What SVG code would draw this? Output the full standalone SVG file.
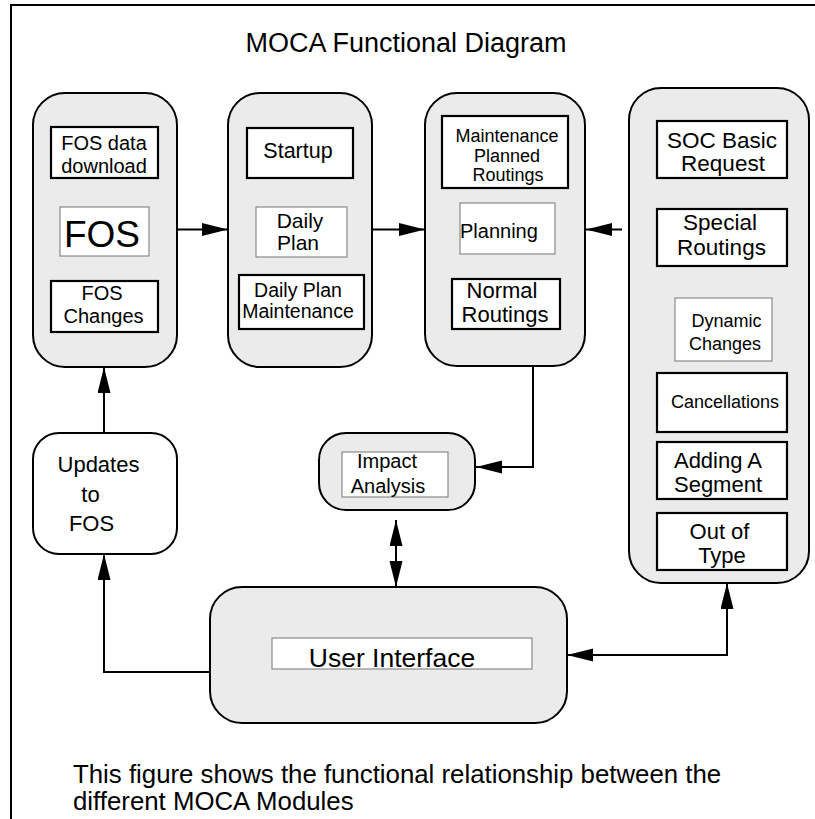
<svg xmlns="http://www.w3.org/2000/svg" width="815" height="819" viewBox="0 0 815 819">
<style>
text{font-family:"Liberation Sans",Arial,Helvetica,sans-serif;fill:#000}
.mod{fill:#ebebeb;stroke:#000;stroke-width:2}
.plain{fill:#fff;stroke:#000;stroke-width:2}
.box{fill:#fff;stroke:#000;stroke-width:2.2}
.thin{fill:#fff;stroke:#8a8a8a;stroke-width:1.2}
.con{fill:none;stroke:#000;stroke-width:2}
.m{text-anchor:middle}
</style>
<defs>
<marker id="ah" markerUnits="userSpaceOnUse" markerWidth="27" markerHeight="14" refX="26" refY="6.5" orient="auto-start-reverse" viewBox="0 0 27 14">
<path d="M0,0 L26,6.5 L0,13 z" fill="#000"/>
</marker>
</defs>
<rect width="815" height="819" fill="#fff"/>
<g id="frame">
<path d="M11,819 V5 H815" fill="none" stroke="#000" stroke-width="2"/>
</g>
<text id="title" x="406" y="52" font-size="27" class="m">MOCA Functional Diagram</text>

<g id="fos-module">
<rect class="mod" x="33" y="93" width="144" height="274" rx="32"/>
<rect class="box" x="51" y="127" width="107" height="51"/>
<text x="104" y="150" font-size="20" class="m">FOS data</text>
<text x="104" y="173" font-size="20" class="m">download</text>
<rect class="thin" x="60" y="207" width="89" height="49"/>
<text x="102" y="247" font-size="37" class="m">FOS</text>
<rect class="box" x="51" y="281" width="107" height="51"/>
<text x="102" y="300" font-size="20" class="m">FOS</text>
<text x="103.5" y="323" font-size="20" class="m">Changes</text>
</g>

<g id="daily-module">
<rect class="mod" x="228" y="93" width="144" height="274" rx="32"/>
<rect class="box" x="247" y="128" width="106" height="50"/>
<text x="298" y="158" font-size="21.5" class="m">Startup</text>
<rect class="thin" x="256" y="207" width="91" height="50"/>
<text x="300" y="228" font-size="21" class="m">Daily</text>
<text x="298" y="250" font-size="21" class="m">Plan</text>
<rect class="box" x="239" y="275" width="125" height="54"/>
<text x="298" y="297" font-size="19.5" class="m">Daily Plan</text>
<text x="298" y="318" font-size="19.5" class="m">Maintenance</text>
</g>

<g id="planning-module">
<rect class="mod" x="425" y="93" width="160" height="273" rx="32"/>
<rect class="box" x="442" y="116" width="126" height="72"/>
<text x="507" y="142" font-size="18" class="m">Maintenance</text>
<text x="507" y="162" font-size="18" class="m">Planned</text>
<text x="508" y="181" font-size="18" class="m">Routings</text>
<rect class="thin" x="460" y="203" width="95" height="51"/>
<text x="460" y="238" font-size="20">Planning</text>
<rect class="box" x="452" y="279" width="108" height="50"/>
<text x="502" y="298" font-size="22" class="m">Normal</text>
<text x="505" y="322" font-size="22" class="m">Routings</text>
</g>

<g id="soc-module">
<rect class="mod" x="629" y="88" width="180" height="495" rx="32"/>
<rect class="box" x="657" y="121" width="130" height="57"/>
<text x="722" y="148" font-size="22.5" class="m">SOC Basic</text>
<text x="723" y="171" font-size="22.5" class="m">Request</text>
<rect class="box" x="657" y="209" width="130" height="57"/>
<text x="720" y="230" font-size="22.5" class="m">Special</text>
<text x="721.5" y="255" font-size="22.5" class="m">Routings</text>
<rect class="thin" x="675" y="298" width="97" height="63"/>
<text x="726.5" y="327" font-size="18" class="m">Dynamic</text>
<text x="725" y="350" font-size="18" class="m">Changes</text>
<rect class="box" x="657" y="373" width="130" height="59"/>
<text x="725" y="408" font-size="18" class="m">Cancellations</text>
<rect class="box" x="657" y="442" width="130" height="57"/>
<text x="718" y="468" font-size="22" class="m">Adding A</text>
<text x="718" y="492" font-size="22" class="m">Segment</text>
<rect class="box" x="657" y="513" width="130" height="57"/>
<text x="719.5" y="539" font-size="22" class="m">Out of</text>
<text x="722" y="563" font-size="22" class="m">Type</text>
</g>

<g id="updates-fos">
<rect class="plain" x="33" y="433" width="144" height="121" rx="26"/>
<text x="98.5" y="472" font-size="22" class="m">Updates</text>
<text x="90.5" y="502" font-size="22" class="m">to</text>
<text x="91.5" y="531" font-size="22" class="m">FOS</text>
</g>

<g id="impact-analysis">
<rect class="mod" x="319" y="433" width="156" height="77" rx="27"/>
<rect class="thin" x="342" y="452" width="106" height="45"/>
<text x="387" y="468" font-size="20" class="m">Impact</text>
<text x="388" y="493" font-size="20" class="m">Analysis</text>
</g>

<g id="user-interface">
<rect class="mod" x="210" y="587" width="357" height="136" rx="32"/>
<rect class="thin" x="272" y="638" width="260" height="31"/>
<text x="392" y="667" font-size="26.5" class="m">User Interface</text>
</g>

<g id="connectors">
<line class="con" x1="177" y1="229.5" x2="228" y2="229.5" marker-end="url(#ah)"/>
<line class="con" x1="372" y1="229.5" x2="425" y2="229.5" marker-end="url(#ah)"/>
<line class="con" x1="622" y1="229.5" x2="586" y2="229.5" marker-end="url(#ah)"/>
<path class="con" d="M533,366 V467 H476" marker-end="url(#ah)"/>
<line class="con" x1="396" y1="520" x2="396" y2="587" marker-start="url(#ah)" marker-end="url(#ah)"/>
<path class="con" d="M210,672 H104 V554" marker-end="url(#ah)"/>
<line class="con" x1="104" y1="433" x2="104" y2="367" marker-end="url(#ah)"/>
<path class="con" d="M567,655 H727 V583" marker-start="url(#ah)" marker-end="url(#ah)"/>
</g>

<g id="caption">
<text x="73" y="783" font-size="25.8">This figure shows the functional relationship between the</text>
<text x="73" y="810" font-size="25.8">different MOCA Modules</text>
</g>
</svg>
